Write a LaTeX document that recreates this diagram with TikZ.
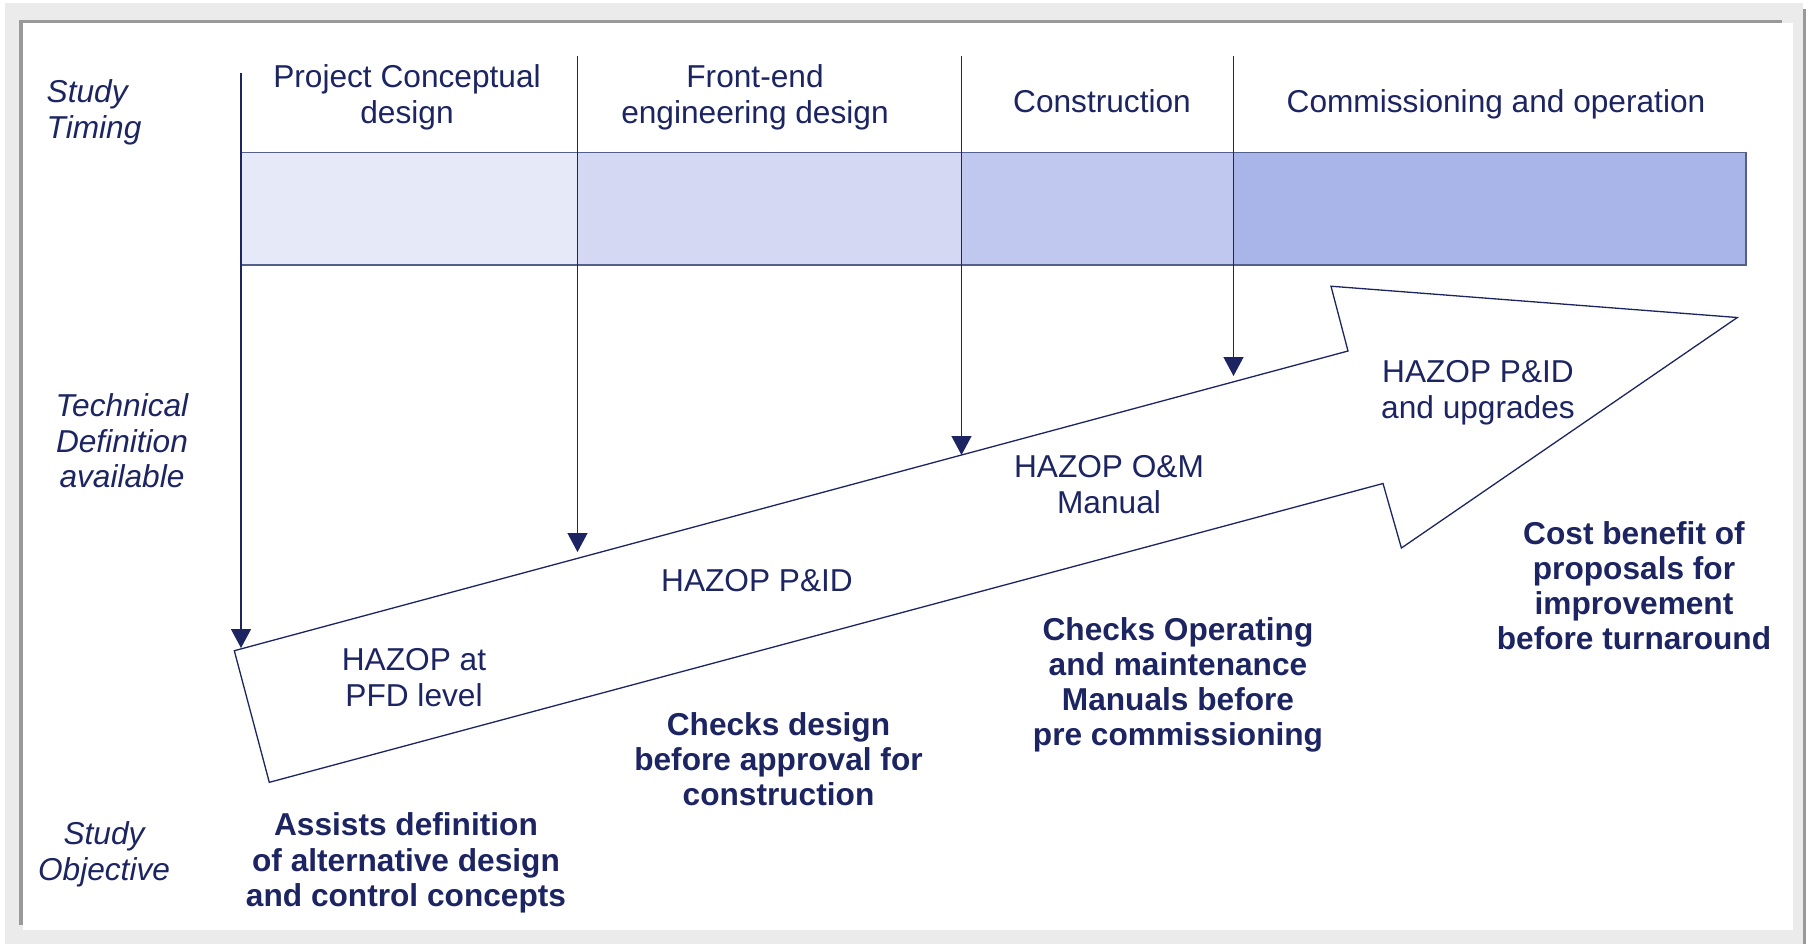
\documentclass[tikz,border=0pt]{standalone}
\usepackage{fontspec}
\setmainfont{Liberation Sans}
\usepackage{tikz}
\usetikzlibrary{arrows.meta}
\definecolor{ink}{RGB}{28,37,98}
\definecolor{barline}{RGB}{85,95,140}
\definecolor{phaseone}{RGB}{230,233,248}
\definecolor{phasetwo}{RGB}{212,216,243}
\definecolor{phasethree}{RGB}{192,200,239}
\definecolor{phasefour}{RGB}{169,181,232}
\definecolor{framebg}{RGB}{235,235,235}
\definecolor{frameline}{RGB}{153,153,153}

\begin{document}
\begin{tikzpicture}[x=0.01cm, y=-0.01cm,
    every node/.style={inner sep=0pt, text=ink, font=\fontsize{9}{10}\selectfont},
    phase/.style={align=center, anchor=base},
    side/.style={align=center, anchor=base, font=\fontsize{9}{10}\selectfont\itshape},
    hazop/.style={align=center, anchor=base},
    goal/.style={align=center, anchor=base, font=\fontsize{9}{10}\selectfont\bfseries},
    drop/.style={-{Triangle[width=0.2cm, length=0.19cm]}, ink, line width=0.37pt}
]
\useasboundingbox (0,0) rectangle (1811,944);

% frame
\fill[framebg] (5,3) rectangle (1803,944);
\fill[white] (23,23) rectangle (1793,930);
\draw[frameline, line width=1.1pt] (21,925) -- (21,21.5) -- (1782,21.5);
\draw[frameline, line width=0.85pt] (1804.5,9) -- (1804.5,944);

% timing bar
\fill[phaseone] (241,152.5) rectangle (577.5,265);
\fill[phasetwo] (577.5,152.5) rectangle (961.5,265);
\fill[phasethree] (961.5,152.5) rectangle (1233.5,265);
\fill[phasefour] (1233.5,152.5) rectangle (1746,265);
\draw[barline, line width=0.55pt] (241,152.5) rectangle (1746,265);

% big arrow
\draw[ink, line width=0.37pt, fill=white] (234.3,650.7) -- (1348,351) -- (1331,286.2)
    -- (1737.3,317.5) -- (1401.4,548) -- (1383,483.5) -- (269.3,782.3) -- cycle;

% phase drops
\coordinate (top1) at (241,72.5);
\coordinate (end1) at (241,648);
\coordinate (top2) at (577.5,56);
\coordinate (end2) at (577.5,552);
\coordinate (top3) at (961.5,56);
\coordinate (end3) at (961.5,455);
\coordinate (top4) at (1233.5,56);
\coordinate (end4) at (1233.5,376);

\draw[drop] (top1) -- (end1);
\draw[drop] (top2) -- (end2);
\draw[drop] (top3) -- (end3);
\draw[drop] (top4) -- (end4);

% side labels (anchored at last baseline)
\node[side, align=left, anchor=base west] (timing) at (46,138) {Study\\Timing};
\node[side] (techdef) at (122,487.3) {Technical\\Definition\\available};
\node[side] (objective) at (104,880) {Study\\Objective};

% phases
\node[phase] (concept) at (407,123) {Project Conceptual\\design};
\node[phase] (feed) at (755,123) {Front-end\\engineering design};
\node[phase] (construct) at (1102,112) {Construction};
\node[phase] (commission) at (1496,112) {Commissioning and operation};

% studies
\node[hazop] (pfd) at (414,706) {HAZOP at\\PFD level};
\node[hazop] (pid) at (757,591) {HAZOP P\&ID};
\node[hazop] (om) at (1109,513) {HAZOP O\&M\\Manual};
\node[hazop] (upgrade) at (1478,418) {HAZOP P\&ID\\and upgrades};

% objectives
\node[goal] (assist) at (406,906.3) {Assists definition\\of alternative design\\and control concepts};
\node[goal] (checkdesign) at (778.5,805.8) {Checks design\\before approval for\\construction};
\node[goal] (checkom) at (1178,745.5) {Checks Operating\\and maintenance\\Manuals before\\pre commissioning};
\node[goal] (costben) at (1634,649.5) {Cost benefit of\\proposals for\\improvement\\before turnaround};

\end{tikzpicture}
\end{document}
